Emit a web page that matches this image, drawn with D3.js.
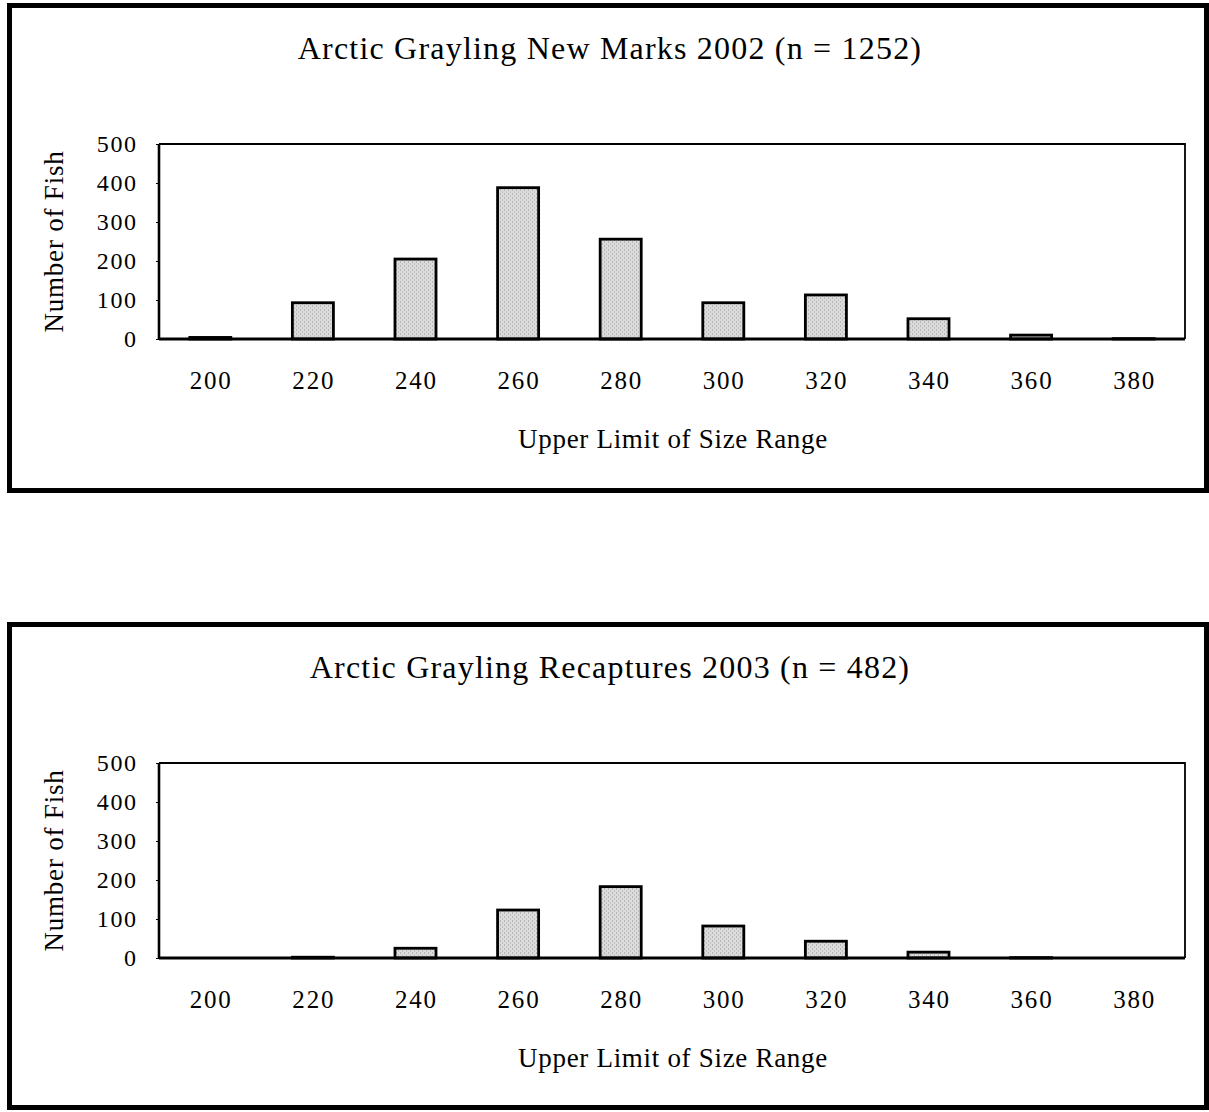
<!DOCTYPE html>
<html><head><meta charset="utf-8">
<script src="https://cdn.jsdelivr.net/npm/d3@7"></script>
<style>body{margin:0;background:#fff;}svg{display:block;}</style>
</head><body>
<svg id="c" width="1209" height="1112"></svg>
<script>
const categories = ["200","220","240","260","280","300","320","340","360","380"];
const newMarks2002 = [4, 93, 205, 388, 256, 93, 113, 52, 10, 1];
const recaptures2003 = [0, 2, 25, 123, 183, 82, 43, 15, 1, 0];
const yTicks = [0, 100, 200, 300, 400, 500];
const titles = ["Arctic Grayling New Marks 2002 (n = 1252)", "Arctic Grayling Recaptures 2003 (n = 482)"];
const yTitle = "Number of Fish";
const xTitle = "Upper Limit of Size Range";

const svg = d3.select("#c");
const defs = svg.append("defs");
const pat = defs.append("pattern").attr("id","stip").attr("patternUnits","userSpaceOnUse").attr("width",4).attr("height",4);
pat.append("rect").attr("width",4).attr("height",4).attr("fill","#dcdcdc");
pat.append("rect").attr("x",0).attr("y",0).attr("width",1).attr("height",1).attr("fill","#8f8f8f");
pat.append("rect").attr("x",2).attr("y",2).attr("width",1).attr("height",1).attr("fill","#9f9f9f");

const font = "'Liberation Serif', 'Times New Roman', serif";

function panel(top, h, values, title) {
  const g = svg.append("g").attr("transform", `translate(0,${top})`);
  g.append("rect").attr("x",9.5).attr("y",0).attr("width",1197).attr("height",h)
    .attr("fill","none").attr("stroke","#000").attr("stroke-width",5);
  g.append("text").attr("x",610).attr("y",53).attr("text-anchor","middle")
    .attr("font-family",font).attr("font-size",32).attr("letter-spacing",1.2).text(title);

  const left = 159, right = 1185, yTop = 138.5, yBot = 333.5;
  const x = d3.scaleBand().domain(categories).range([left, right]).paddingInner(0.6).paddingOuter(0.3);
  const y = d3.scaleLinear().domain([0, 500]).range([yBot, yTop]);

  // plot frame (top and right thinner)
  g.append("path").attr("d",`M${left},${yTop}H${right}V${yBot}`)
    .attr("fill","none").attr("stroke","#000").attr("stroke-width",1.8);

  g.selectAll(".bar").data(values).join("rect").attr("class","bar")
    .attr("x",(d,i)=>x(categories[i])).attr("width",x.bandwidth())
    .attr("y",d=>y(d)).attr("height",d=>yBot-y(d))
    .attr("fill","url(#stip)").attr("stroke","#000").attr("stroke-width",2.8);

  const yAxis = g.append("g").attr("transform",`translate(${left},0)`)
    .call(d3.axisLeft(y).tickValues(yTicks).tickSize(3).tickPadding(20).tickFormat(d3.format("d")));
  yAxis.select(".domain").attr("stroke-width",2.6).attr("d",`M0,${yTop}V${yBot}`);
  yAxis.selectAll("line").attr("stroke-width",1);
  yAxis.selectAll("text").attr("font-family",font).attr("font-size",24).attr("letter-spacing",1.6)
    .attr("dx",1.6).attr("fill","#000");

  const xAxis = g.append("g").attr("transform",`translate(0,${yBot})`)
    .call(d3.axisBottom(x).tickSize(0).tickPadding(0));
  xAxis.select(".domain").attr("stroke-width",2.8).attr("d",`M${left},0H${right}`);
  xAxis.selectAll("text").attr("font-family",font).attr("font-size",25).attr("letter-spacing",1.8)
    .attr("dx",0.9).attr("y",50).attr("dy",0).attr("fill","#000");

  g.append("text").attr("transform",`translate(63,${(yTop+yBot)/2}) rotate(-90)`).attr("text-anchor","middle")
    .attr("font-family",font).attr("font-size",27).attr("letter-spacing",0.8).text(yTitle);
  g.append("text").attr("x",673).attr("y",442).attr("text-anchor","middle")
    .attr("font-family",font).attr("font-size",27).attr("letter-spacing",0.7).text(xTitle);
}
panel(5.5, 485, newMarks2002, titles[0]);
panel(624.5, 483, recaptures2003, titles[1]);
</script>
</body></html>
